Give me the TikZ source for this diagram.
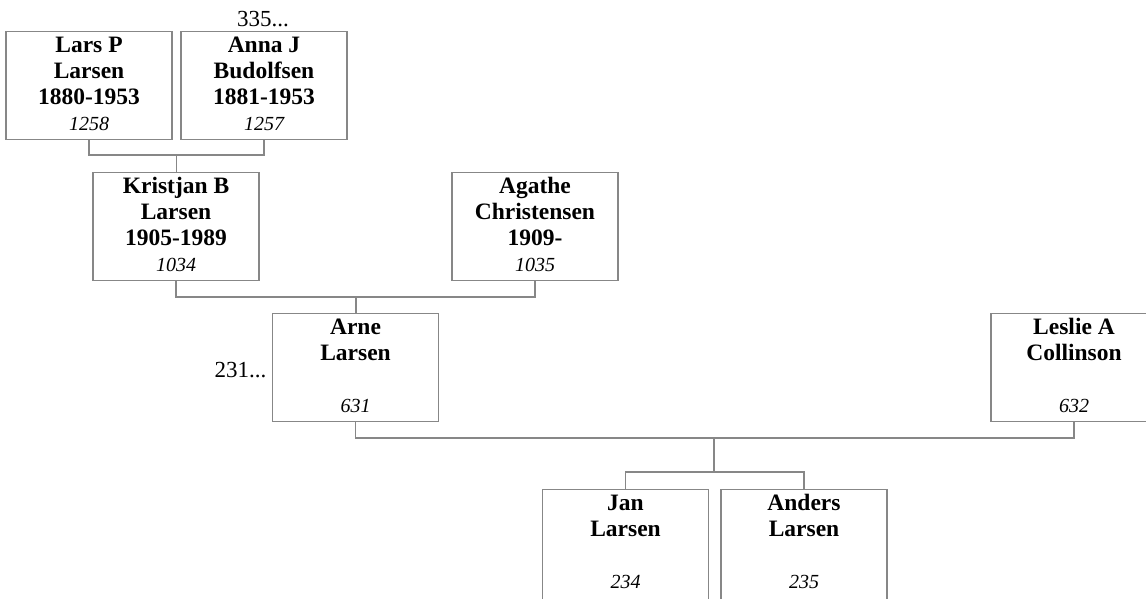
\documentclass[tikz,border=0pt]{standalone}
\usepackage{fontspec}
\setmainfont{Liberation Serif}
\usetikzlibrary{calc}
\definecolor{linec}{RGB}{135,135,135}
\tikzset{
  box/.style={draw=linec, line width=1.2pt, minimum width=166pt, minimum height=108pt, inner sep=0pt, anchor=north},
  nm/.style={font=\bfseries\fontsize{23.5}{26}\selectfont, anchor=base, inner sep=0pt},
  num/.style={font=\itshape\fontsize{20}{24}\selectfont, anchor=base, inner sep=0pt},
  note/.style={font=\fontsize{23}{26}\selectfont, inner sep=0pt},
  conn/.style={draw=linec, line width=1.2pt}
}
\newcommand\personbox[7]{%
  \node[box] (#1) at (#2,#3) {};
  \node[nm] (#1-a) at ([yshift=-21.5pt]#1.north) {#4};
  \node[nm] (#1-b) at ([yshift=-47.5pt]#1.north) {#5};
  \node[nm] (#1-c) at ([yshift=-73.5pt]#1.north) {#6};
  \node[num] (#1-n) at ([yshift=-99pt]#1.north) {#7};
}
\begin{document}
\begin{tikzpicture}[x=1pt,y=-1pt]
\useasboundingbox (0,0) rectangle (1146,598);
\clip (0,0) rectangle (1146,598);
\personbox{lars}{89}{31}{Lars P}{Larsen}{1880-1953}{1258}
\personbox{anna}{264}{31}{Anna J}{Budolfsen}{1881-1953}{1257}
\personbox{kristjan}{176}{172}{Kristjan B}{Larsen}{1905-1989}{1034}
\personbox{agathe}{535}{172}{Agathe}{Christensen}{1909-}{1035}
\personbox{arne}{355.5}{313}{Arne}{Larsen}{}{631}
\personbox{leslie}{1074}{313}{Leslie A}{Collinson}{}{632}
\node[box, minimum height=112pt] (jan) at (625.5,489) {};
\node[nm] (jan-a) at ([yshift=-21.5pt]jan.north) {Jan};
\node[nm] (jan-b) at ([yshift=-47.5pt]jan.north) {Larsen};
\node[num] (jan-n) at ([yshift=-99pt]jan.north) {234};
\node[box, minimum height=112pt] (anders) at (804,489) {};
\node[nm] (anders-a) at ([yshift=-21.5pt]anders.north) {Anders};
\node[nm] (anders-b) at ([yshift=-47.5pt]anders.north) {Larsen};
\node[num] (anders-n) at ([yshift=-99pt]anders.north) {235};
\node[note, anchor=base] (more1) at (263,26) {335...};
\node[note, anchor=base east] (more2) at (266.5,377) {231...};
\coordinate (j1) at (176.5,155);
\coordinate (j2) at (356,297);
\coordinate (j3) at (714,438);
\coordinate (j4) at (714,472);
\draw[conn] (lars.south) |- (j1) -| (anna.south);
\draw[conn] (j1) -- (j1 |- kristjan.north);
\draw[conn] (kristjan.south) |- (j2) -| (agathe.south);
\draw[conn] (j2) -- (j2 |- arne.north);
\draw[conn] (arne.south) |- (j3) -| (leslie.south);
\draw[conn] (j3) -- (j4);
\draw[conn] (jan.north) |- (j4) -| (anders.north);
\end{tikzpicture}
\end{document}
